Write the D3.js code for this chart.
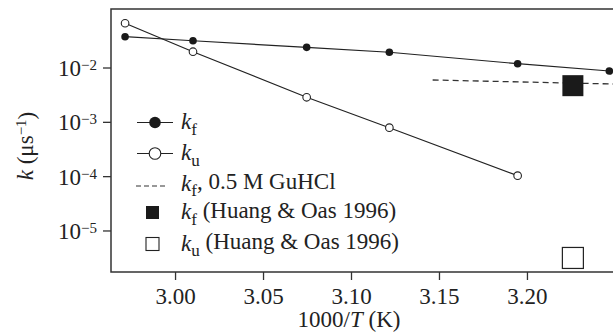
<!DOCTYPE html>
<html>
  <head>
    <meta charset="utf-8">
    <title>k vs 1000/T</title>
    <script src="https://d3js.org/d3.v7.min.js"></script>
    <style>
      body { margin: 0; background: #fff; }
      text { font-family: "Liberation Serif", "DejaVu Serif", serif; fill: #222; }
      .domain, .tick line { stroke: #333; }
    </style>
  </head>
  <body>
    <div id="chart"></div>
    <script>

      // data (x = 1000/T, y = k in per microsecond)
      var tempX = [2.9716, 3.0102, 3.0748, 3.1218, 3.1947, 3.2468];
      var kFold = [0.0369, 0.0311, 0.0235, 0.0191, 0.01175, 0.00863];
      var kUnfold = [0.0652, 0.01954, 0.00283, 0.00078, 0.000102];
      var dashX = [3.1464, 3.2489];
      var dashK = [0.00589, 0.00497];
      var huangX = [3.2261];
      var huangFold = [0.00463];
      var huangUnfold = [0.00000312];
      var xTicks = [3.00, 3.05, 3.10, 3.15, 3.20];
      var yTicks = [1e-2, 1e-3, 1e-4, 1e-5];
      var yTickExp = ["−2", "−3", "−4", "−5"];

      var W = 613, H = 335;
      var margin = {top: 9, right: 0, bottom: 63, left: 111};
      var width = W - margin.left - margin.right,
          height = H - margin.top - margin.bottom;
      var fs = "23px", fsSmall = "15px";

      var svg = d3.select("#chart").append("svg")
          .attr("width", W)
          .attr("height", H);

      var g = svg.append("g")
          .attr("transform", "translate(" + margin.left + "," + margin.top + ")");

      var x = d3.scaleLinear()
          .domain([2.9636, 3.2489])
          .range([0, width]);

      var y = d3.scaleLog()
          .domain([1.72e-6, 0.1194])
          .range([height, 0]);

      // frame: left, top, bottom
      g.append("path")
        .attr("d", "M" + width + ",0H0V" + height + "H" + width)
        .attr("fill", "none")
        .attr("stroke", "#333")
        .attr("stroke-width", 1.5);

      // x axis
      var xAxis = g.append("g")
          .attr("transform", "translate(0," + height + ")")
          .call(d3.axisBottom(x).tickValues(xTicks).tickSize(8).tickSizeOuter(0)
            .tickFormat(d3.format(".2f")));
      xAxis.select(".domain").remove();
      xAxis.selectAll(".tick line").attr("stroke-width", 1.3);
      xAxis.selectAll(".tick text")
        .attr("y", 16)
        .style("font-size", fs);

      // y axis
      var yAxis = g.append("g")
          .call(d3.axisLeft(y).tickValues(yTicks).tickSize(8).tickSizeOuter(0));
      yAxis.select(".domain").remove();
      yAxis.selectAll(".tick line").attr("stroke-width", 1.3);
      yAxis.selectAll(".tick text").each(function(d, i) {
        var t = d3.select(this).text("")
          .attr("x", -14)
          .attr("dy", "0.35em")
          .style("font-size", fs);
        t.append("tspan").text("10");
        t.append("tspan").text(yTickExp[i])
          .attr("dy", "-0.4em")
          .style("font-size", fsSmall);
      });

      // axis titles
      var xt = svg.append("text")
          .attr("x", 349)
          .attr("y", 327)
          .attr("text-anchor", "middle")
          .style("font-size", fs);
      xt.append("tspan").text("1000/");
      xt.append("tspan").text("T").style("font-style", "italic");
      xt.append("tspan").text(" (K)");

      var yt = svg.append("text")
          .attr("transform", "translate(33,146) rotate(-90)")
          .attr("text-anchor", "middle")
          .style("font-size", fs);
      yt.append("tspan").text("k").style("font-style", "italic");
      yt.append("tspan").text(" (μs");
      yt.append("tspan").text("−1").attr("dy", "-0.5em").style("font-size", fsSmall);
      yt.append("tspan").text(")").attr("dy", "0.35em");

      // plot clip
      g.append("clipPath").attr("id", "clip")
        .append("rect").attr("width", width).attr("height", height);
      var plot = g.append("g").attr("clip-path", "url(#clip)");

      var line = d3.line()
          .x(function(d) { return x(d[0]); })
          .y(function(d) { return y(d[1]); });

      var foldPts = tempX.map(function(t, i) { return [t, kFold[i]]; });
      var unfoldPts = kUnfold.map(function(k, i) { return [tempX[i], k]; });
      var dashPts = dashX.map(function(t, i) { return [t, dashK[i]]; });

      plot.append("path").datum(dashPts)
        .attr("d", line)
        .attr("fill", "none")
        .attr("stroke", "#333")
        .attr("stroke-width", 1.3)
        .attr("stroke-dasharray", "6,4");

      plot.append("path").datum(foldPts)
        .attr("d", line)
        .attr("fill", "none")
        .attr("stroke", "#222")
        .attr("stroke-width", 1.2);

      plot.append("path").datum(unfoldPts)
        .attr("d", line)
        .attr("fill", "none")
        .attr("stroke", "#222")
        .attr("stroke-width", 1.2);

      plot.selectAll(".kf").data(foldPts).enter().append("circle")
        .attr("cx", function(d) { return x(d[0]); })
        .attr("cy", function(d) { return y(d[1]); })
        .attr("r", 3.8)
        .attr("fill", "#1a1a1a");

      plot.selectAll(".ku").data(unfoldPts).enter().append("circle")
        .attr("cx", function(d) { return x(d[0]); })
        .attr("cy", function(d) { return y(d[1]); })
        .attr("r", 3.8)
        .attr("fill", "#fff")
        .attr("stroke", "#222")
        .attr("stroke-width", 1.1);

      var sq = 21;
      plot.selectAll(".hf").data(huangX).enter().append("rect")
        .attr("x", function(d) { return x(d) - sq / 2; })
        .attr("y", function(d, i) { return y(huangFold[i]) - sq / 2; })
        .attr("width", sq).attr("height", sq)
        .attr("fill", "#1a1a1a");

      plot.selectAll(".hu").data(huangX).enter().append("rect")
        .attr("x", function(d) { return x(d) - sq / 2; })
        .attr("y", function(d, i) { return y(huangUnfold[i]) - sq / 2; })
        .attr("width", sq).attr("height", sq)
        .attr("fill", "#fff")
        .attr("stroke", "#222")
        .attr("stroke-width", 1.2);

      // legend
      var leg = svg.append("g");
      var rows = [122.5, 153.5, 186, 212.5, 244];

      function label(yy, sub, rest) {
        var t = leg.append("text").attr("x", 181).attr("y", yy).attr("dy", "0.3em")
          .style("font-size", fs);
        t.append("tspan").text("k").style("font-style", "italic");
        t.append("tspan").text(sub).attr("dy", "0.3em").style("font-size", "17px");
        t.append("tspan").text(rest).attr("dy", "-0.3em");
      }

      leg.append("line").attr("x1", 137).attr("x2", 173).attr("y1", rows[0]).attr("y2", rows[0])
        .attr("stroke", "#222").attr("stroke-width", 1.2);
      leg.append("circle").attr("cx", 155).attr("cy", rows[0]).attr("r", 5.8).attr("fill", "#1a1a1a");
      label(rows[0], "f", "");

      leg.append("line").attr("x1", 137).attr("x2", 173).attr("y1", rows[1]).attr("y2", rows[1])
        .attr("stroke", "#222").attr("stroke-width", 1.2);
      leg.append("circle").attr("cx", 155).attr("cy", rows[1]).attr("r", 5.8)
        .attr("fill", "#fff").attr("stroke", "#222").attr("stroke-width", 1.1);
      label(rows[1], "u", "");

      leg.append("line").attr("x1", 136).attr("x2", 168).attr("y1", rows[2]).attr("y2", rows[2])
        .attr("stroke", "#333").attr("stroke-width", 1.2).attr("stroke-dasharray", "5,3");
      label(rows[2] - 2, "f", ", 0.5 M GuHCl");

      leg.append("rect").attr("x", 146).attr("y", rows[3] - 6.5).attr("width", 13).attr("height", 13)
        .attr("fill", "#1a1a1a");
      label(rows[3], "f", " (Huang & Oas 1996)");

      leg.append("rect").attr("x", 146).attr("y", rows[4] - 6.5).attr("width", 13).attr("height", 13)
        .attr("fill", "#fff").attr("stroke", "#222").attr("stroke-width", 1.1);
      label(rows[4], "u", " (Huang & Oas 1996)");

    </script>
  </body>
</html>
